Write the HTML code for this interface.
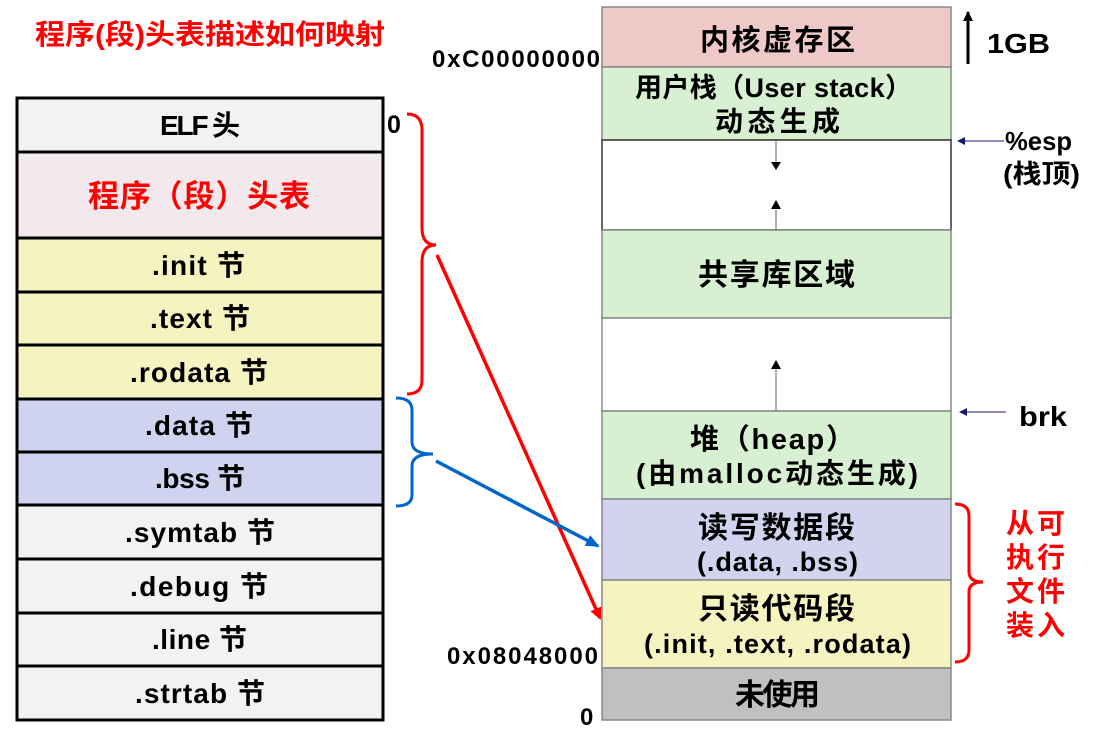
<!DOCTYPE html>
<html><head><meta charset="utf-8"><style>
html,body{margin:0;padding:0;background:#fff;width:1093px;height:731px;overflow:hidden}
svg{display:block}
text{font-family:"Liberation Sans","Noto Sans CJK SC",sans-serif;font-weight:bold}
</style></head><body>
<svg width="1093" height="731" viewBox="0 0 1093 731">
<defs>
<marker id="ar" markerWidth="12" markerHeight="12" refX="10" refY="6" orient="auto" markerUnits="userSpaceOnUse"><path d="M0,0 L12,6 L0,12 z" fill="#f00"/></marker>
<marker id="ab" markerWidth="14" markerHeight="12" refX="12" refY="6" orient="auto" markerUnits="userSpaceOnUse"><path d="M0,0 L14,6 L0,12 z" fill="#0066cc"/></marker>
<marker id="an" markerWidth="8" markerHeight="8" refX="7" refY="4" orient="auto" markerUnits="userSpaceOnUse"><path d="M0,0 L8,4 L0,8 z" fill="#1a1a6e"/></marker>
<marker id="ak" markerWidth="10" markerHeight="10" refX="9" refY="5" orient="auto" markerUnits="userSpaceOnUse"><path d="M0,0 L10,5 L0,10 z" fill="#000"/></marker>
</defs>
<text x="35" y="44" font-size="28" fill="#f00" textLength="350" lengthAdjust="spacingAndGlyphs">程序(段)头表描述如何映射</text>

<g stroke="#000" stroke-width="3">
<rect x="17" y="98" width="366" height="54" fill="#f2f2f2"/>
<rect x="17" y="152" width="366" height="86" fill="#f3e8ec"/>
<rect x="17" y="238" width="366" height="54" fill="#f5f3c0"/>
<rect x="17" y="292" width="366" height="53" fill="#f5f3c0"/>
<rect x="17" y="345" width="366" height="54" fill="#f5f3c0"/>
<rect x="17" y="399" width="366" height="53" fill="#d0d3ef"/>
<rect x="17" y="452" width="366" height="53" fill="#d0d3ef"/>
<rect x="17" y="505" width="366" height="54" fill="#f2f2f2"/>
<rect x="17" y="559" width="366" height="54" fill="#f2f2f2"/>
<rect x="17" y="613" width="366" height="53" fill="#f2f2f2"/>
<rect x="17" y="666" width="366" height="54" fill="#f2f2f2"/>
</g>
<g font-size="28" fill="#000" lengthAdjust="spacingAndGlyphs">
<text x="160" y="135" textLength="80">ELF 头</text>
<text x="88" y="207" fill="#f00" font-size="31" textLength="222">程序（段）头表</text>
<text x="152" y="275" textLength="93">.init 节</text>
<text x="150" y="328" textLength="100">.text 节</text>
<text x="130" y="382" textLength="138">.rodata 节</text>
<text x="145" y="435" textLength="108">.data 节</text>
<text x="155" y="488" textLength="90">.bss 节</text>
<text x="125" y="542" textLength="150">.symtab 节</text>
<text x="130" y="596" textLength="138">.debug 节</text>
<text x="152" y="649" textLength="95">.line 节</text>
<text x="135" y="703" textLength="130">.strtab 节</text>
</g>
<text x="387" y="133" font-size="25">0</text>

<path d="M407,114 Q422,114 422,130 L422,228 Q422,245 436,245 Q422,245 422,262 L422,380 Q422,394 407,394" fill="none" stroke="#f00" stroke-width="3"/>
<path d="M396,398 Q412,398 412,410 L412,442 Q412,454 433,454 Q412,454 412,466 L412,495 Q412,506 396,506" fill="none" stroke="#0066cc" stroke-width="3"/>
<line x1="437" y1="255" x2="600" y2="618" stroke="#f00" stroke-width="3.5" marker-end="url(#ar)"/>
<line x1="436" y1="461" x2="598" y2="546" stroke="#0066cc" stroke-width="3.5" marker-end="url(#ab)"/>

<g stroke="#888" stroke-width="1.5">
<rect x="602" y="7" width="349" height="60" fill="#efc8c8"/>
<rect x="602" y="67" width="349" height="73" fill="#d8f0d2"/>
<rect x="602" y="140" width="349" height="90" fill="#fff" stroke="#333"/>
<rect x="602" y="230" width="349" height="88" fill="#d8f0d2"/>
<rect x="602" y="318" width="349" height="93" fill="#fff"/>
<rect x="602" y="411" width="349" height="88" fill="#d8f0d2"/>
<rect x="602" y="499" width="349" height="81" fill="#d2d3ef"/>
<rect x="602" y="580" width="349" height="88" fill="#f5f3c0"/>
<rect x="602" y="668" width="349" height="52" fill="#c0c0c0"/>
</g>
<g stroke="#666" stroke-width="1">
<line x1="776" y1="140" x2="776" y2="170"/>
<line x1="776" y1="210" x2="776" y2="230"/>
<line x1="776" y1="411" x2="776" y2="362"/>
</g>
<path d="M771,162 L781,162 L776,170 z" fill="#000"/>
<path d="M771,209 L781,209 L776,200 z" fill="#000"/>
<path d="M771,369 L781,369 L776,360 z" fill="#000"/>
<g font-size="29" fill="#000" lengthAdjust="spacingAndGlyphs">
<text x="700" y="50" textLength="155">内核虚存区</text>
<text x="635" y="97" font-size="27" textLength="277">用户栈（User stack）</text>
<text x="715" y="131" font-size="28" textLength="125">动态生成</text>
<text x="698" y="285" font-size="30" textLength="157">共享库区域</text>
<text x="690" y="449" textLength="165">堆（heap）</text>
<text x="636" y="483" font-size="28" textLength="282">(由malloc动态生成)</text>
<text x="698" y="538" font-size="30" textLength="157">读写数据段</text>
<text x="697" y="571" font-size="27" textLength="161">(.data, .bss)</text>
<text x="698" y="619" font-size="30" textLength="157">只读代码段</text>
<text x="644" y="653" font-size="27" textLength="267">(.init, .text, .rodata)</text>
<text x="735" y="705" font-size="30" textLength="85">未使用</text>
</g>
<g font-size="24" fill="#000" lengthAdjust="spacingAndGlyphs">
<text x="432" y="67" textLength="168">0xC00000000</text>
<text x="447" y="664" textLength="151">0x08048000</text>
<text x="580" y="725">0</text>
</g>
<line x1="968" y1="64" x2="968" y2="12" stroke="#000" stroke-width="3" marker-end="url(#ak)"/>
<text x="987" y="53" font-size="28" textLength="63" lengthAdjust="spacingAndGlyphs">1GB</text>
<line x1="1004" y1="141" x2="958" y2="141" stroke="#1a1a6e" stroke-width="1" marker-end="url(#an)"/>
<text x="1005" y="150" font-size="26" textLength="67" lengthAdjust="spacingAndGlyphs">%esp</text>
<text x="1003" y="183" font-size="26" textLength="77" lengthAdjust="spacingAndGlyphs">(栈顶)</text>
<line x1="1006" y1="412" x2="960" y2="412" stroke="#1a1a6e" stroke-width="1" marker-end="url(#an)"/>
<text x="1019" y="426" font-size="28" textLength="48" lengthAdjust="spacingAndGlyphs">brk</text>
<path d="M955,504 Q969,504 969,516 L969,572 Q969,582 983,582 Q969,582 969,592 L969,650 Q969,662 955,662" fill="none" stroke="#f00" stroke-width="3"/>
<g font-size="28" fill="#f00" lengthAdjust="spacingAndGlyphs">
<text x="1006" y="533" textLength="59">从可</text>
<text x="1006" y="567" textLength="59">执行</text>
<text x="1006" y="601" textLength="59">文件</text>
<text x="1006" y="635" textLength="59">装入</text>
</g>
</svg>
</body></html>
